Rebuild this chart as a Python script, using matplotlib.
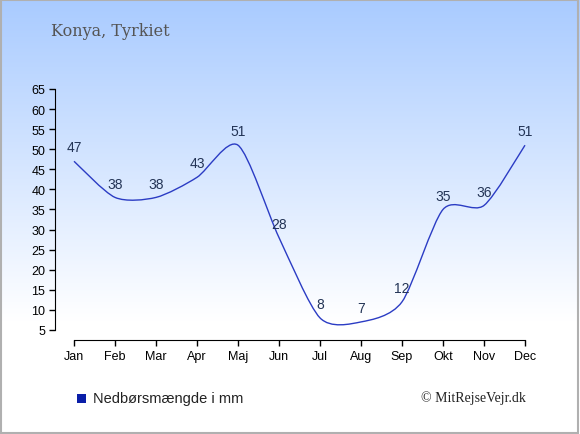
import numpy as np
import matplotlib.pyplot as plt
from matplotlib.path import Path
from matplotlib.patches import PathPatch, Rectangle
from matplotlib.colors import LinearSegmentedColormap

months = ["Jan", "Feb", "Mar", "Apr", "Maj", "Jun",
          "Jul", "Aug", "Sep", "Okt", "Nov", "Dec"]
rain_mm = [47, 38, 38, 43, 51, 28, 8, 7, 12, 35, 36, 51]
y_ticks = list(range(5, 70, 5))

title = "Konya, Tyrkiet"
legend_label = "Nedbørsmængde i mm"
credit = "© MitRejseVejr.dk"

W, H = 580, 435
fig = plt.figure(figsize=(W / 100, H / 100), dpi=100)

# background gradient, light blue on top fading to white
bg = fig.add_axes([0, 0, 1, 1], zorder=-10)
grad = np.linspace(0, 1, 256).reshape(-1, 1)
cmap = LinearSegmentedColormap.from_list(
    "sky", [(0, "#a9cbff"), (0.74, "#ffffff"), (1, "#ffffff")])
bg.imshow(grad, aspect="auto", cmap=cmap, extent=[0, 1, 0, 1], origin="upper")
bg.set_xlim(0, 1)
bg.set_ylim(0, 1)
bg.axis("off")
bg.add_patch(Rectangle((0.001, 0.002), 0.996, 0.995, fill=False,
                       edgecolor="#b0b0b0", lw=1.5, transform=bg.transAxes))

x = np.arange(len(months))
ymin, ymax = 2.5, 65.5
px_per_unit = 241 / 60
ax_bottom = 341
ax_top = ax_bottom - (ymax - ymin) * px_per_unit
left_px, step = 55, 41
x_left = (left_px - 74) / step
x_right = 11.25
right_px = 74 + x_right * step

ax = fig.add_axes([left_px / W, 1 - ax_bottom / H,
                   (right_px - left_px) / W, (ax_bottom - ax_top) / H])
ax.patch.set_alpha(0)
ax.set_xlim(x_left, x_right)
ax.set_ylim(ymin, ymax)

# smooth curve through the points (cardinal spline as bezier segments)
pts = np.column_stack([x, rain_mm]).astype(float)
k = 0.13
verts = [tuple(pts[0])]
codes = [Path.MOVETO]
for i in range(len(pts) - 1):
    p0 = pts[max(i - 1, 0)]
    p1 = pts[i]
    p2 = pts[i + 1]
    p3 = pts[min(i + 2, len(pts) - 1)]
    c1 = p1 + (p2 - p0) * k
    c2 = p2 - (p3 - p1) * k
    verts += [tuple(c1), tuple(c2), tuple(p2)]
    codes += [Path.CURVE4] * 3
ax.add_patch(PathPatch(Path(verts, codes), fill=False,
                       edgecolor="#2b3cc4", lw=1.0))

for xi, v in zip(x, rain_mm):
    ax.annotate(str(v), (xi, v), xytext=(0, 10), textcoords="offset points",
                ha="center", va="center", fontsize=10, color="#233456",
                family="Liberation Sans")

for s in ["top", "right"]:
    ax.spines[s].set_visible(False)
ax.spines["left"].set_bounds(5, 65)
ax.spines["bottom"].set_bounds(0, 11)
ax.set_yticks(y_ticks)
ax.set_xticks(x)
ax.set_xticklabels(months)
ax.tick_params(length=4, width=1, labelsize=9, pad=3)
for lab in ax.get_xticklabels() + ax.get_yticklabels():
    lab.set_family("Liberation Sans")

fig.text(51 / W, 1 - 32 / H, title, fontsize=11.5, color="#555555",
         family="DejaVu Serif", va="center", ha="left")

fig.patches.append(Rectangle((77 / W, 1 - 404 / H), 9 / W, 9 / H,
                             facecolor="#0a1ea8", edgecolor="none",
                             transform=fig.transFigure, figure=fig))
fig.text(93 / W, 1 - 399 / H, legend_label, fontsize=10.5, color="#222222",
         family="Liberation Sans", va="center", ha="left")
fig.text(526 / W, 1 - 398 / H, credit, fontsize=10, color="#222222",
         family="Liberation Serif", va="center", ha="right")

fig.savefig("out.png", dpi=100)
